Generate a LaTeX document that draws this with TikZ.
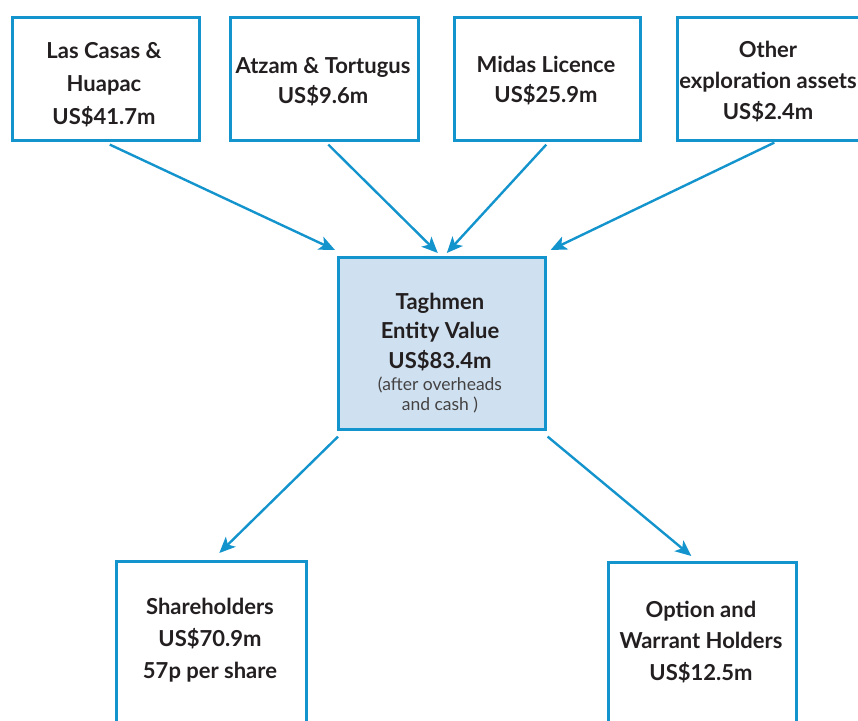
\documentclass[tikz,border=0pt]{standalone}
\usepackage{fontspec}
\setmainfont{Lato}
\usetikzlibrary{arrows.meta,calc}
\definecolor{bdr}{HTML}{1494CC}
\definecolor{cfill}{HTML}{CFE1F0}
\definecolor{txt}{HTML}{231F20}
\tikzset{
  boxnode/.style={draw=bdr,line width=2.6pt,rectangle,inner sep=0pt,anchor=north west},
  lbl/.style={align=center,anchor=base,text=txt,font=\bfseries\fontsize{22}{33}\selectfont},
  sub/.style={align=center,anchor=base,text=txt!85,font=\fontsize{17.5}{20}\selectfont},
  conn/.style={draw=bdr,line width=2.4pt,-{Stealth[length=16pt,width=14pt,inset=4pt]}}
}
\begin{document}
\begin{tikzpicture}[x=1pt,y=-1pt]
\useasboundingbox (0,0) rectangle (858,720);
\clip (0,0) rectangle (858,720);
% boxes
\node[boxnode,minimum width=187pt,minimum height=123pt] (b1) at (11,16) {};
\node[boxnode,minimum width=188pt,minimum height=123pt] (b2) at (229,16) {};
\node[boxnode,minimum width=186pt,minimum height=123pt] (b3) at (453,16) {};
\node[boxnode,minimum width=188pt,minimum height=123pt] (b4) at (676,16) {};
\node[boxnode,fill=cfill,minimum width=207pt,minimum height=172pt] (c) at (337,256) {};
\node[boxnode,minimum width=190pt,minimum height=200pt] (bl) at (115,560) {};
\node[boxnode,minimum width=188pt,minimum height=200pt] (br) at (607,561) {};
% texts (anchored at the baseline of the last line)
\node[lbl] (t1) at (104,124) {Las Casas \&\\Huapac\\US\$41.7m};
\node[lbl,font=\bfseries\fontsize{22}{30}\selectfont] (t2) at (323,103) {Atzam \& Tortugus\\US\$9.6m};
\node[lbl,font=\bfseries\fontsize{22}{30}\selectfont] (t3) at (546,102) {Midas Licence\\US\$25.9m};
\node[lbl,font=\bfseries\fontsize{22}{31}\selectfont] (t4) at (768,119) {Other\\exploration assets\\US\$2.4m};
\node[lbl,font=\bfseries\fontsize{22}{29.5}\selectfont] (tc) at (440,368) {Taghmen\\Entity Value\\US\$83.4m};
\node[sub] (tcs) at (440,410) {(after overheads\\and cash )};
\node[lbl,font=\bfseries\fontsize{22}{32}\selectfont] (tl) at (210,678) {Shareholders\\US\$70.9m\\57p per share};
\node[lbl,font=\bfseries\fontsize{22}{31.5}\selectfont] (tr) at (701,680) {Option and\\Warrant Holders\\US\$12.5m};
% connectors
\draw[conn] ($(b1.south)+(4,3)$) -- ($(c.north west)+(-2,-6)$);
\draw[conn] ($(b2.south)+(4,3)$) -- ($(c.north)+(-4,-3)$);
\draw[conn] ($(b3.south)+(-1,3)$) -- ($(c.north)+(5,-3)$);
\draw[conn] ($(b4.south)+(3,1)$) -- ($(c.north east)+(4,-6)$);
\draw[conn] ($(c.south west)+(1,6)$) -- ($(bl.north)+(8,-7)$);
\draw[conn] ($(c.south east)+(1,6)$) -- ($(br.north)+(-11,-5)$);
\end{tikzpicture}
\end{document}
